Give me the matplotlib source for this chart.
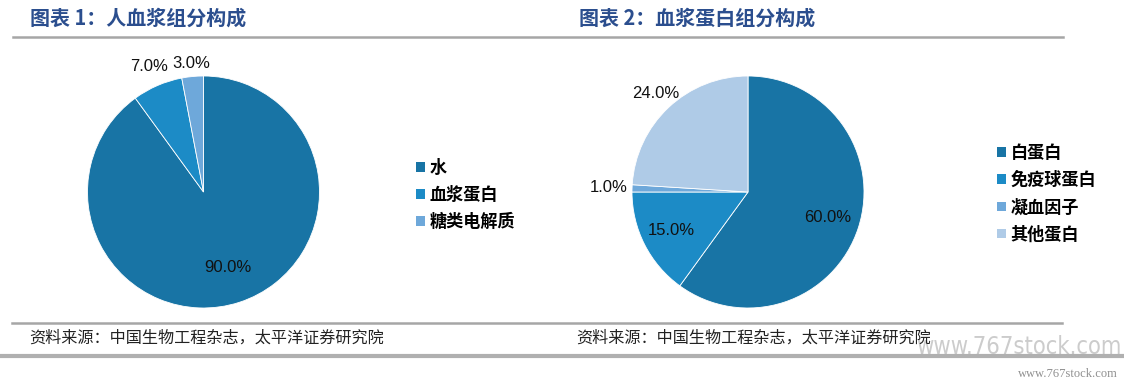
import numpy as np
import matplotlib
matplotlib.use("Agg")
import matplotlib.pyplot as plt
from matplotlib.patches import Patch
from matplotlib.lines import Line2D

plt.rcParams['font.family'] = ['Noto Sans CJK SC', 'DejaVu Sans']

# ---- data ----
title1 = "图表 1：人血浆组分构成"
title2 = "图表 2：血浆蛋白组分构成"
labels1 = ["水", "血浆蛋白", "糖类电解质"]
values1 = [90.0, 7.0, 3.0]
labels2 = ["白蛋白", "免疫球蛋白", "凝血因子", "其他蛋白"]
values2 = [60.0, 15.0, 1.0, 24.0]
source = "资料来源：中国生物工程杂志，太平洋证券研究院"

colors1 = ["#1874A5", "#1C8BC6", "#6EA8DA"]
colors2 = ["#1874A5", "#1C8BC6", "#6EA8DA", "#AFCBE7"]
label_r1 = [0.68, 1.18, 1.11]
label_r2 = [0.72, 0.74, 1.20, 1.16]

W, H = 1124, 388
fig = plt.figure(figsize=(W / 100, H / 100), dpi=100)
fig.patch.set_facecolor("white")


def px_axes(cx, cy, r):
    return fig.add_axes([(cx - r) / W, (H - cy - r) / H, 2 * r / W, 2 * r / H])


def draw_pie(ax, values, colors, rfac):
    wedges, _ = ax.pie(values, colors=colors, startangle=90, counterclock=False,
                       radius=1.0, wedgeprops=dict(linewidth=0.6, edgecolor="white"))
    ax.set_xlim(-1, 1)
    ax.set_ylim(-1, 1)
    ax.set_aspect("equal")
    ax.axis("off")
    for w, v, rf in zip(wedges, values, rfac):
        ang = np.deg2rad((w.theta1 + w.theta2) / 2)
        ax.text(rf * np.cos(ang), rf * np.sin(ang), f"{v:.1f}%",
                ha="center", va="center", fontsize=12,
                family=["Liberation Sans", "DejaVu Sans"], color="#111111",
                clip_on=False)
    return wedges


ax1 = px_axes(203.5, 192, 116)
draw_pie(ax1, values1, colors1, label_r1)
ax2 = px_axes(748, 192, 116)
draw_pie(ax2, values2, colors2, label_r2)


def legend(labels, colors, x, y, spacing):
    handles = [Patch(facecolor=c, edgecolor="none") for c in colors]
    lg = fig.legend(handles, labels, loc="upper left",
                    bbox_to_anchor=(x / W, 1 - y / H), bbox_transform=fig.transFigure,
                    frameon=False, handlelength=0.5, handleheight=0.5,
                    handletextpad=0.3, labelspacing=spacing, borderpad=0,
                    borderaxespad=0,
                    prop=dict(family=['Noto Sans CJK SC', 'DejaVu Sans'],
                              weight="bold", size=12.3))
    return lg


legend(labels1, colors1, 416, 159, 0.52)
legend(labels2, colors2, 997, 144, 0.54)

# titles
title_color = "#2B4E8E"
fig.text(30 / W, 1 - 18 / H, title1, ha="left", va="center", fontsize=14.4,
         weight="bold", color=title_color)
fig.text(579 / W, 1 - 18 / H, title2, ha="left", va="center", fontsize=14.4,
         weight="bold", color=title_color)

# separator lines
fig.add_artist(Line2D([13 / W, 1063 / W], [1 - 37 / H, 1 - 37 / H],
                      transform=fig.transFigure, color="#A6A6A6", lw=1.8))
fig.add_artist(Line2D([12 / W, 1062 / W], [1 - 323 / H, 1 - 323 / H],
                      transform=fig.transFigure, color="#A6A6A6", lw=1.8))
fig.add_artist(Line2D([0, 1], [1 - 356 / H, 1 - 356 / H],
                      transform=fig.transFigure, color="#B0B0B0", lw=3))

# sources
fig.text(29 / W, 1 - 338 / H, source, ha="left", va="center", fontsize=11.6,
         color="#222222")
fig.text(576 / W, 1 - 338 / H, source, ha="left", va="center", fontsize=11.6,
         color="#222222")

# watermark
fig.text(1121 / W, 1 - 347 / H, "www.767stock.com", ha="right", va="center",
         fontsize=17, color="#CCCCCC", family=["DejaVu Sans"], fontstretch="condensed",
         zorder=0)
fig.text(1118 / W, 1 - 374 / H, "www.767stock.com", ha="right", va="center",
         fontsize=9, color="#909090", family=["Liberation Serif", "DejaVu Serif"])

fig.savefig("out.png", dpi=100, facecolor="white")
